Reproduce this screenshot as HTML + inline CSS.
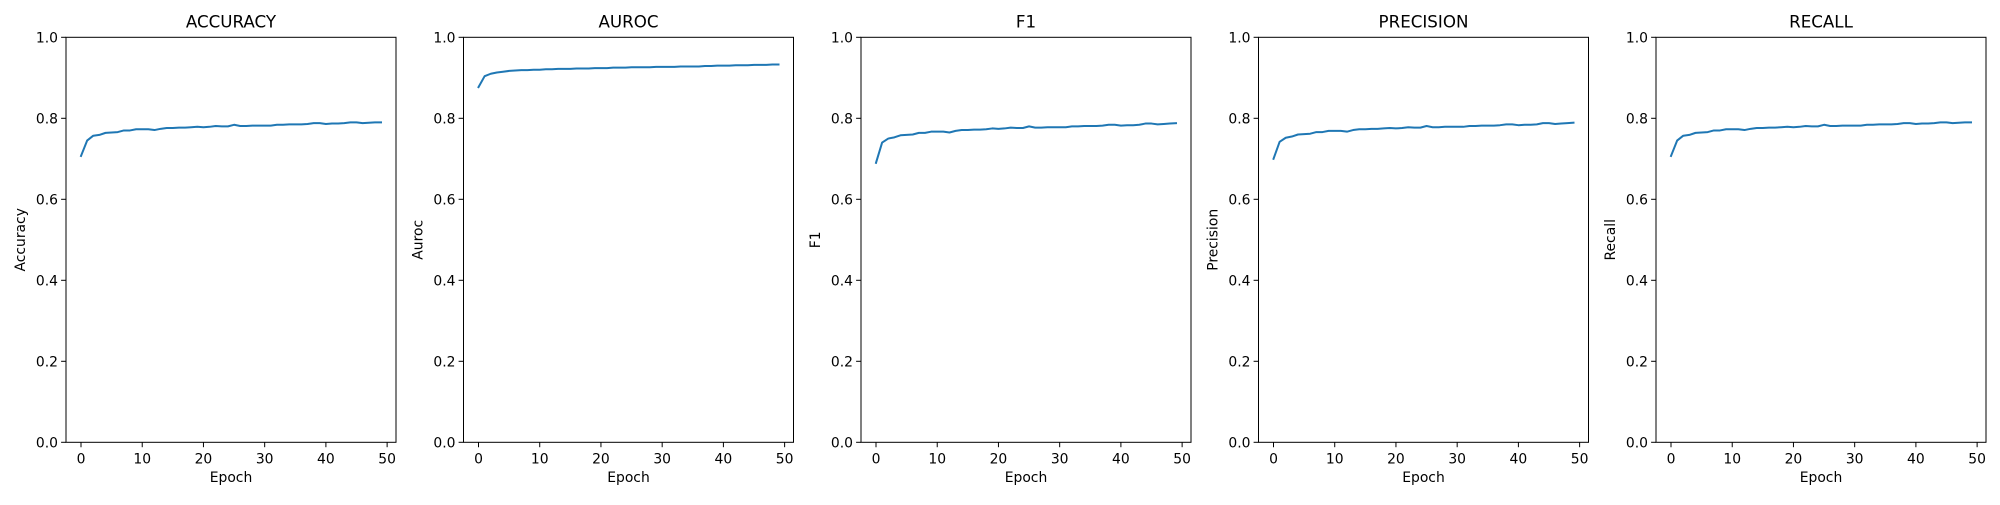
<!DOCTYPE html>
<html><head><meta charset="utf-8"><style>
body{margin:0;background:#fff;}
svg text{font-family:"DejaVu Sans","Liberation Sans",sans-serif;fill:#000;}
</style></head><body>
<svg id="fig" width="2000" height="500" xmlns="http://www.w3.org/2000/svg"></svg>
<script>
const epochs = Array.from({length:50},(_,i)=>i);
const accuracyValues = [0.707,0.745,0.757,0.759,0.764,0.765,0.766,0.770,0.770,0.773,0.773,0.773,0.771,0.774,0.776,0.776,0.777,0.777,0.778,0.779,0.778,0.779,0.781,0.780,0.780,0.784,0.781,0.781,0.782,0.782,0.782,0.782,0.784,0.784,0.785,0.785,0.785,0.786,0.788,0.788,0.786,0.787,0.787,0.788,0.790,0.790,0.788,0.789,0.790,0.790];
const aurocValues = [0.877,0.904,0.910,0.913,0.915,0.917,0.918,0.919,0.919,0.920,0.920,0.921,0.921,0.922,0.922,0.922,0.923,0.923,0.923,0.924,0.924,0.924,0.925,0.925,0.925,0.926,0.926,0.926,0.926,0.927,0.927,0.927,0.927,0.928,0.928,0.928,0.928,0.929,0.929,0.930,0.930,0.930,0.931,0.931,0.931,0.932,0.932,0.932,0.933,0.933];
const f1Values = [0.690,0.740,0.750,0.753,0.758,0.759,0.760,0.764,0.764,0.767,0.767,0.767,0.765,0.769,0.771,0.771,0.772,0.772,0.773,0.775,0.774,0.775,0.777,0.776,0.776,0.780,0.777,0.777,0.778,0.778,0.778,0.778,0.780,0.780,0.781,0.781,0.781,0.782,0.784,0.784,0.782,0.783,0.783,0.784,0.787,0.787,0.785,0.786,0.787,0.788];
const precisionValues = [0.700,0.742,0.752,0.755,0.760,0.761,0.762,0.766,0.766,0.769,0.769,0.769,0.767,0.771,0.773,0.773,0.774,0.774,0.775,0.776,0.775,0.776,0.778,0.777,0.777,0.781,0.778,0.778,0.779,0.779,0.779,0.779,0.781,0.781,0.782,0.782,0.782,0.783,0.785,0.785,0.783,0.784,0.784,0.785,0.788,0.788,0.786,0.787,0.788,0.789];
const recallValues = [0.707,0.745,0.757,0.759,0.764,0.765,0.766,0.770,0.770,0.773,0.773,0.773,0.771,0.774,0.776,0.776,0.777,0.777,0.778,0.779,0.778,0.779,0.781,0.780,0.780,0.784,0.781,0.781,0.782,0.782,0.782,0.782,0.784,0.784,0.785,0.785,0.785,0.786,0.788,0.788,0.786,0.787,0.787,0.788,0.790,0.790,0.788,0.789,0.790,0.790];
const titles = ["ACCURACY","AUROC","F1","PRECISION","RECALL"];
const ylabels = ["Accuracy","Auroc","F1","Precision","Recall"];
const yTicks = [0,0.2,0.4,0.6,0.8,1.0];
const xTicks = [0,10,20,30,40,50];
const series = [accuracyValues,aurocValues,f1Values,precisionValues,recallValues];

const NS="http://www.w3.org/2000/svg";
const svg=document.getElementById('fig');
function mk(tag,attrs,parent){const e=document.createElementNS(NS,tag);for(const k in attrs)e.setAttribute(k,attrs[k]);(parent||svg).appendChild(e);return e;}
const plotTop=37.3,plotBot=442.3,W=330,xmin=-2.45,xmax=51.45;
series.forEach((vals,p)=>{
  const left=66+p*397.5;
  const g=mk('g',{});
  
  
  const xs=v=>left+(v-xmin)/(xmax-xmin)*W;
  const ys=v=>plotBot-v*(plotBot-plotTop);
  const t=mk('text',{x:left+W/2,y:plotTop-10,'text-anchor':'middle','font-size':'16.7'},g);t.textContent=titles[p];
  
  
  yTicks.forEach(v=>{
    const y=ys(v);
    mk('line',{x1:left-4.9,x2:left,y1:y,y2:y,stroke:'#000','stroke-width':1},g);
    const tx=mk('text',{x:left-8,y:y+5,'text-anchor':'end','font-size':'13.9'},g);tx.textContent=v.toFixed(1);
    
    
  });
  xTicks.forEach(v=>{
    const x=xs(v);
    mk('line',{x1:x,x2:x,y1:plotBot,y2:plotBot+4.9,stroke:'#000','stroke-width':1},g);
    const tx=mk('text',{x:x,y:plotBot+21,'text-anchor':'middle','font-size':'13.9'},g);tx.textContent=v;
    
    
  });
  const xl=mk('text',{x:left+W/2,y:482,'text-anchor':'middle','font-size':'13.9'},g);xl.textContent='Epoch';
  
  
  const yl=mk('text',{x:0,y:0,'text-anchor':'middle','font-size':'13.9',transform:`translate(${left-41},${(plotTop+plotBot)/2}) rotate(-90)`},g);yl.textContent=ylabels[p];
  
  
  const d=vals.map((v,i)=>(i?'L':'M')+xs(epochs[i]).toFixed(2)+','+ys(v).toFixed(2)).join('');
  const path=mk('path',{d:d,fill:'none',stroke:'#1f77b4','stroke-width':2,'stroke-linejoin':'round','stroke-linecap':'square'},g);
  
  
  const fr=mk('rect',{x:left,y:plotTop,width:W,height:plotBot-plotTop,fill:'none',stroke:'#000','stroke-width':1},g);
  
  
});
</script>
</body></html>
